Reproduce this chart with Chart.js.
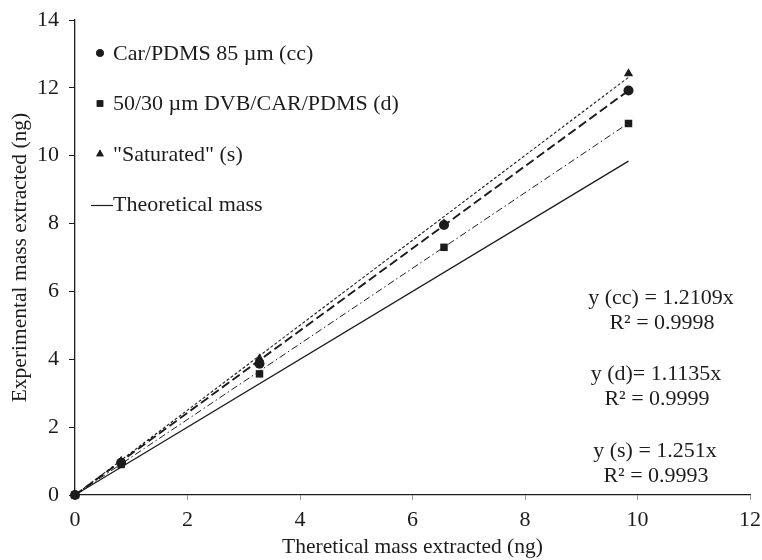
<!DOCTYPE html>
<html>
<head>
<meta charset="utf-8">
<script src="https://cdn.jsdelivr.net/npm/chart.js@4/dist/chart.umd.min.js"></script>
<style>
  body { margin: 0; background: #fff; }
  #wrap { width: 762px; height: 560px; }
</style>
</head>
<body>
<div id="wrap"><canvas id="massChart"></canvas></div>
<script>
// values
const theoMass = [0, 0.82, 3.28, 6.56, 9.84];
const carPdms = [0, 0.95, 3.87, 7.96, 11.92];
const dvbCarPdms = [0, 0.9, 3.57, 7.3, 10.95];
const saturated = [0, 1.0, 4.02, 8.0, 12.42];

// straight lines: theoretical (y = x) and the three fits, start and end only
const lineX = [0, 9.84];
const theoLine = [0, 9.84];
const fitCC = [0, 11.92];
const fitD = [0, 10.96];
const fitS = [0, 12.31];

const xTicks = [0, 2, 4, 6, 8, 10, 12];
const yTicks = [0, 2, 4, 6, 8, 10, 12, 14];

const fitNotes = [
  ['y (cc) = 1.2109x', 'R² = 0.9998'],
  ['y (d)= 1.1135x', 'R² = 0.9999'],
  ['y (s) = 1.251x', 'R² = 0.9993']
];

const ink = '#1c1c1c';
const serif = '"Liberation Serif", "DejaVu Serif", serif';

function pts(xs, ys) {
  return xs.map((x, i) => ({ x: x, y: ys[i] }));
}

// legend inside the plot + fit equations
const notesPlugin = {
  id: 'notes',
  afterDatasetsDraw(chart) {
    const ctx = chart.ctx;
    const area = chart.chartArea;
    ctx.save();
    ctx.fillStyle = ink;
    ctx.strokeStyle = ink;
    ctx.font = '22px ' + serif;
    ctx.textBaseline = 'middle';
    ctx.textAlign = 'left';

    const items = [
      { label: 'Car/PDMS 85 µm (cc)', style: 'circle', r: 3.8 },
      { label: '50/30 µm DVB/CAR/PDMS (d)', style: 'rect', r: 4.6 },
      { label: '"Saturated" (s)', style: 'triangle', r: 4.4 },
      { label: 'Theoretical mass', style: 'line' }
    ];
    items.forEach((it, i) => {
      const y = area.top + 34 + i * 50.5;
      const mx = area.left + 25;
      if (it.style === 'line') {
        ctx.lineWidth = 1.2;
        ctx.beginPath();
        ctx.moveTo(area.left + 16, y);
        ctx.lineTo(area.left + 38, y);
        ctx.stroke();
        ctx.fillText(it.label, area.left + 38, y);
      } else {
        Chart.helpers.drawPoint(ctx, { pointStyle: it.style, radius: it.r, rotation: 0, borderWidth: 0 }, mx, y - 1);
        ctx.fill();
        ctx.fillText(it.label, area.left + 38, y);
      }
    });

    // fit equations, centred to the right
    ctx.textAlign = 'center';
    const cx = [661, 656, 655];
    const top = [298, 374, 451];
    fitNotes.forEach((pair, i) => {
      ctx.fillText(pair[0], cx[i], top[i]);
      ctx.fillText(pair[1], cx[i] + 1, top[i] + 25);
    });
    ctx.restore();
  }
};

const ctx = document.getElementById('massChart').getContext('2d');
new Chart(ctx, {
  type: 'scatter',
  data: {
    datasets: [
      {
        label: 'Car/PDMS 85 µm (cc)',
        data: pts(theoMass, carPdms),
        pointStyle: 'circle', pointRadius: 5,
        backgroundColor: ink, borderColor: ink, borderWidth: 0,
        order: 0, clip: false
      },
      {
        label: '50/30 µm DVB/CAR/PDMS (d)',
        data: pts(theoMass, dvbCarPdms),
        pointStyle: 'rect', pointRadius: 5.3,
        backgroundColor: ink, borderColor: ink, borderWidth: 0,
        order: 1, clip: false
      },
      {
        label: '"Saturated" (s)',
        data: pts(theoMass, saturated),
        pointStyle: 'triangle', pointRadius: 5.4,
        backgroundColor: ink, borderColor: ink, borderWidth: 0,
        order: 2, clip: false
      },
      {
        label: 'Theoretical mass',
        data: pts(lineX, theoLine),
        showLine: true, pointRadius: 0,
        borderColor: ink, borderWidth: 1.3,
        order: 6, clip: false
      },
      {
        label: 'fit cc',
        data: pts(lineX, fitCC),
        showLine: true, pointRadius: 0,
        borderColor: ink, borderWidth: 1.9, borderDash: [9, 4],
        order: 5, clip: false
      },
      {
        label: 'fit d',
        data: pts(lineX, fitD),
        showLine: true, pointRadius: 0,
        borderColor: ink, borderWidth: 1, borderDash: [7, 3, 1.5, 3],
        order: 7, clip: false
      },
      {
        label: 'fit s',
        data: pts(lineX, fitS),
        showLine: true, pointRadius: 0,
        borderColor: ink, borderWidth: 1.1, borderDash: [3, 2],
        order: 4, clip: false
      }
    ]
  },
  options: {
    responsive: true,
    maintainAspectRatio: false,
    animation: false,
    layout: { padding: { top: 20, right: 12, bottom: 0, left: 0 } },
    plugins: {
      legend: { display: false },
      tooltip: { enabled: false }
    },
    scales: {
      x: {
        type: 'linear', min: 0, max: 12,
        afterBuildTicks: s => { s.ticks = xTicks.map(v => ({ value: v })); },
        afterFit: s => { s.height = 65; s.paddingLeft = 0; s.paddingRight = 0; },
        grid: { drawOnChartArea: false, drawTicks: true, tickLength: 5, color: '#999' },
        border: { display: true, color: ink, width: 1.3 },
        ticks: { color: ink, padding: 7, font: { family: serif, size: 22 } },
        title: {
          display: true, text: 'Theretical mass extracted (ng)', color: ink,
          font: { family: serif, size: 21.5 }, padding: { top: 0, bottom: 0 }
        }
      },
      y: {
        type: 'linear', min: 0, max: 14,
        afterBuildTicks: s => { s.ticks = yTicks.map(v => ({ value: v })); },
        afterFit: s => { s.width = 75; s.paddingTop = 0; s.paddingBottom = 0; },
        grid: { drawOnChartArea: false, drawTicks: true, tickLength: 6, color: ink },
        border: { display: true, color: ink, width: 1.3 },
        ticks: { color: ink, padding: 10, font: { family: serif, size: 22 } },
        title: {
          display: true, text: 'Experimental mass extracted (ng)', color: ink,
          font: { family: serif, size: 21.5 }, padding: { top: 7, bottom: 0 }
        }
      }
    }
  },
  plugins: [notesPlugin]
});
</script>
</body>
</html>
